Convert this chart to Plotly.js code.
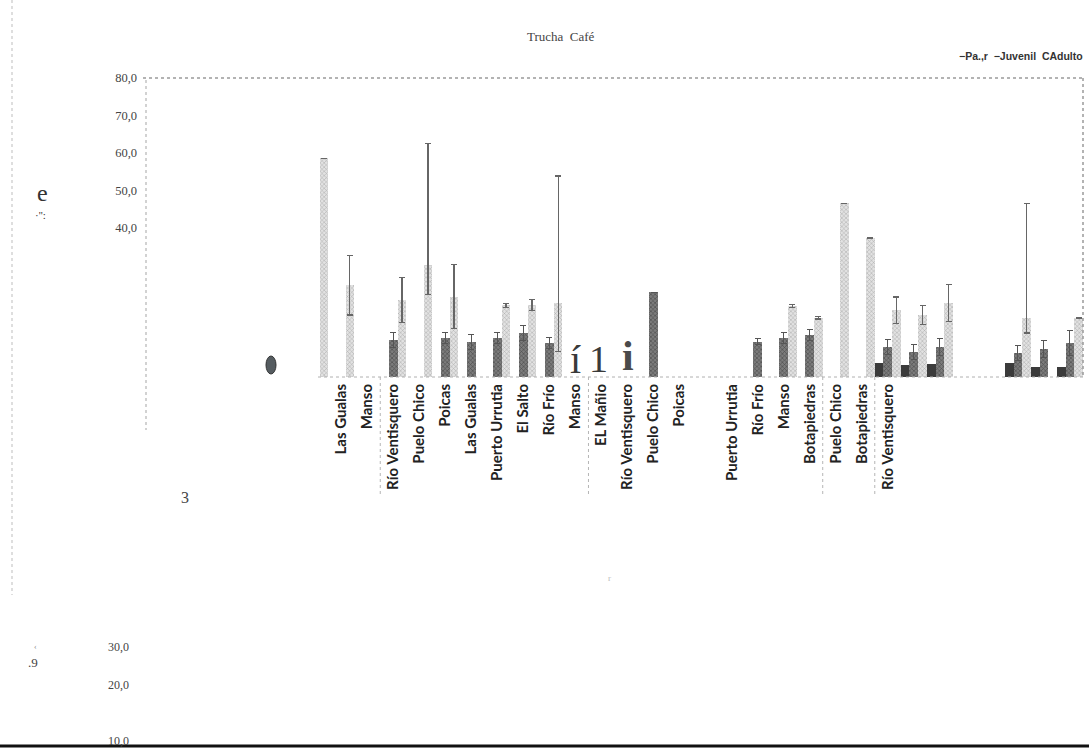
<!DOCTYPE html>
<html>
<head>
<meta charset="utf-8">
<script src="https://cdn.plot.ly/plotly-3.0.1.min.js"></script>
<style>html,body{margin:0;padding:0;background:#fff;}#chart{width:1089px;height:751px;}</style>
</head>
<body>
<div id="chart"></div>
<script>
// ---- data (one slot per category position on the axis) ----
const categories = [
  "", "", "", "", "", "", "",
  "Las Gualas", "Manso", "Río Ventisquero", "Puelo Chico", "Poicas", "Las Gualas",
  "Puerto Urrutia", "El Salto", "Río Frío", "Manso", "EL Mañio", "Río Ventisquero",
  "Puelo Chico", "Poicas", "", "Puerto Urrutia", "Río Frío", "Manso", "Botapiedras",
  "Puelo Chico", "Botapiedras", "Río Ventisquero", "", "", "", "", "", "", ""
];
const paValues = [
  null, null, null, null, null, null, null,
  null, null, null, null, null, null, null, null, null, null, null, null, null, null, null,
  null, null, null, null, null, null,
  3.7, 3.2, 3.5, null, null, 3.7, 2.7, 2.7
];
const juvenilValues = [
  null, null, null, null, null, null, null,
  null, null, 10.0, null, 10.4, 9.4, 10.4, 11.8, 9.1, null, null, null, 22.7, null, null,
  null, 9.4, 10.4, 11.2, null, null,
  8.0, 6.7, 8.0, null, null, 6.4, 7.5, 9.1
];
const juvenilError = [
  null, null, null, null, null, null, null,
  null, null, 2.0, null, 1.5, 2.0, 1.5, 2.0, 1.5, null, null, null, null, null, null,
  null, 0.8, 1.5, 1.5, null, null,
  2.0, 2.0, 2.2, null, null, 2.0, 2.2, 3.4
];
const adultoValues = [
  null, null, null, null, null, null, 58.5,
  24.6, null, 20.6, 30.0, 21.5, null, 19.2, 19.2, 19.8, null, null, null, null, null, null,
  null, null, 19.0, 15.8, 46.5, 37.2,
  17.9, 16.6, 19.8, null, null, 15.8, null, 15.8
];
const adultoErrorPlus = [
  null, null, null, null, null, null, null,
  8.0, null, 6.0, 32.5, 8.5, null, 0.5, 1.5, 34.0, null, null, null, null, null, null,
  null, null, 0.3, 0.3, null, null,
  3.5, 2.5, 5.0, null, null, 30.7, null, null
];
const adultoErrorMinus = [
  null, null, null, null, null, null, null,
  8.0, null, 6.0, 8.0, 8.5, null, 0.5, 1.5, 13.0, null, null, null, null, null, null,
  null, null, 0.3, 0.3, null, null,
  3.5, 2.5, 5.0, null, null, 4.0, null, null
];
const yTickValues = [40, 50, 60, 70, 80];
const yTickLabels = ["40,0", "50,0", "60,0", "70,0", "80,0"];
const separatorAfter = ["Manso", "Manso", "Botapiedras", "Botapiedras"]; // group boundaries, in order

// ---- layout helpers ----
const W = 1089, H = 751;
const M = {l: 146, r: 6, t: 78, b: 374};
const PW = W - M.l - M.r, PH = H - M.t - M.b;
const px = x => (x - M.l) / PW;
const py = y => (H - M.b - y) / PH;
const xs = categories.map((_, i) => i);

const serif = "Liberation Serif, Times New Roman, serif";
const sans = "Liberation Sans, Arial, sans-serif";

const traces = [
  {
    type: "bar", name: "Pa..r", x: xs, y: paValues,
    marker: {color: "#3b3b3b", line: {width: 0}}
  },
  {
    type: "bar", name: "Juvenil", x: xs, y: juvenilValues,
    marker: {color: "#6a6a6a", line: {width: 0},
      pattern: {shape: "x", size: 3, solidity: 0.35, fgcolor: "#4a4a4a", bgcolor: "#7c7c7c"}},
    error_y: {type: "data", array: juvenilError, visible: true, color: "#555", thickness: 1, width: 3}
  },
  {
    type: "bar", name: "CAdulto", x: xs, y: adultoValues,
    marker: {color: "#d4d4d4", line: {width: 0},
      pattern: {shape: "x", size: 3, solidity: 0.3, fgcolor: "#a8a8a8", bgcolor: "#e2e2e2"}},
    error_y: {type: "data", symmetric: false, array: adultoErrorPlus, arrayminus: adultoErrorMinus,
      visible: true, color: "#666", thickness: 1.2, width: 3}
  }
];

// separators between site groups
const sepShapes = [];
let pos = 7;
separatorAfter.forEach(name => {
  const i = categories.indexOf(name, pos);
  if (i >= 0) {
    sepShapes.push({type: "line", xref: "x", yref: "paper", x0: i + 0.5, x1: i + 0.5,
      y0: 0, y1: py(497), line: {color: "#b5b5b5", width: 1, dash: "dot"}});
    pos = i + 1;
  }
});

const frame = [
  {type: "line", xref: "paper", yref: "paper", x0: px(143), x1: px(1083), y0: 1, y1: 1,
    line: {color: "#9a9a9a", width: 1.5, dash: "dot"}},
  {type: "line", xref: "paper", yref: "paper", x0: px(1083), x1: px(1083), y0: 1, y1: py(378),
    line: {color: "#9a9a9a", width: 1.5, dash: "dot"}},
  {type: "line", xref: "paper", yref: "paper", x0: px(146), x1: px(146), y0: py(80), y1: py(430),
    line: {color: "#a5a5a5", width: 1, dash: "dot"}},
  {type: "line", xref: "paper", yref: "paper", x0: px(318), x1: px(1083), y0: py(377), y1: py(377),
    line: {color: "#b0b0b0", width: 1, dash: "dot"}},
  {type: "line", xref: "paper", yref: "paper", x0: px(12), x1: px(12), y0: py(0), y1: py(595),
    line: {color: "#bdbdbd", width: 1, dash: "dot"}},
  {type: "line", xref: "paper", yref: "paper", x0: px(0), x1: px(1089), y0: py(746), y1: py(746),
    line: {color: "#111", width: 3}},
  {type: "circle", xref: "paper", yref: "paper", x0: px(266), x1: px(276), y0: py(356), y1: py(374),
    fillcolor: "#555c60", line: {color: "#333", width: 1}}
];

const ann = (x, y, text, size, opts = {}) => Object.assign({
  xref: "paper", yref: "paper", x: px(x), y: py(y), text: text, showarrow: false,
  font: {family: serif, size: size, color: "#333"}, xanchor: "center", yanchor: "middle"
}, opts);

const annotations = [
  ann(561, 36, "Trucha  Café", 13, {font: {family: serif, size: 13, color: "#444"}}),
  ann(1085, 56, "<b>−Pa.,r  −Juvenil  CAdulto</b>", 10.5,
    {xanchor: "right", font: {family: sans, size: 10.5, color: "#333"}}),
  ann(42, 193, "e", 24, {font: {family: serif, size: 24, color: "#333"}}),
  ann(40, 215, "·'':", 11, {font: {family: serif, size: 11, color: "#333"}}),
  ann(185, 497, "3", 16, {font: {family: serif, size: 16, color: "#444"}}),
  ann(118, 647, "30,0", 12, {font: {family: serif, size: 12, color: "#444"}}),
  ann(118, 685, "20,0", 12, {font: {family: serif, size: 12, color: "#444"}}),
  ann(118, 741, "10,0", 12, {font: {family: serif, size: 12, color: "#444"}}),
  ann(33, 662, ".9", 13, {font: {family: serif, size: 13, color: "#444"}}),
  ann(35, 646, "‹", 8, {font: {family: serif, size: 8, color: "#888"}}),
  ann(609, 578, "r", 9, {font: {family: serif, size: 9, color: "#bbb"}}),
  ann(575, 359, "í", 40, {font: {family: serif, size: 40, color: "#3a3a3a"}}),
  ann(598, 359, "1", 38, {font: {family: serif, size: 38, color: "#3a3a3a"}}),
  ann(628, 356, "<b>i</b>", 42, {font: {family: serif, size: 42, color: "#4a4a4a"}})
];

const layout = {
  width: W, height: H,
  margin: M,
  paper_bgcolor: "#fff", plot_bgcolor: "#fff",
  showlegend: false,
  barmode: "group", bargap: 0, bargroupgap: 0,
  xaxis: {
    range: [-0.5, categories.length - 0.5],
    tickmode: "array", tickvals: xs, ticktext: categories,
    tickangle: -90, ticks: "", showgrid: false, zeroline: false, showline: false,
    tickfont: {family: "Lato, Open Sans, sans-serif", size: 15, color: "#222", weight: "bold"},
    ticklabelstandoff: 3
  },
  yaxis: {
    range: [0, 80],
    tickmode: "array", tickvals: yTickValues, ticktext: yTickLabels,
    ticks: "", showgrid: false, zeroline: false, showline: false,
    tickfont: {family: serif, size: 12.5, color: "#444"},
    ticklabelstandoff: 8
  },
  shapes: frame.concat(sepShapes),
  annotations: annotations
};

Plotly.newPlot("chart", traces, layout, {staticPlot: true, displayModeBar: false});
</script>
</body>
</html>
